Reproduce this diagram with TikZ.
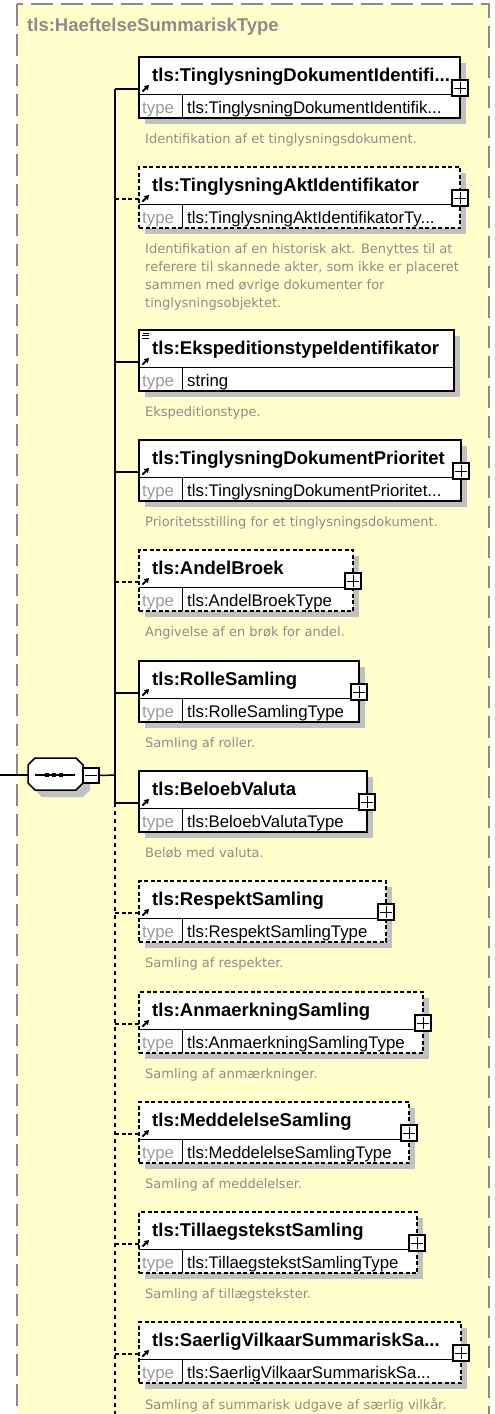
\documentclass[tikz,border=0pt]{standalone}
\usepackage{fontspec}
\usetikzlibrary{positioning,calc,arrows.meta}
\newfontfamily\arialfont{Liberation Sans}
\newfontfamily\descfont{DejaVu Sans}
\definecolor{bgyellow}{HTML}{FFFFCC}
\definecolor{shadowgray}{HTML}{C0C0C0}
\definecolor{textgray}{HTML}{8C8C8C}
\definecolor{typegray}{HTML}{9A9A9A}
\definecolor{framegray}{HTML}{8A8A8A}
\tikzset{
  opt/.style={dash pattern=on 4pt off 2.5pt},
  req/.style={solid},
  elembox/.style={draw, line width=1.5pt, fill=white, inner sep=0pt, outer sep=0pt, anchor=north west, minimum height=61pt},
  elemname/.style={font=\arialfont\bfseries\fontsize{18.5}{20}\selectfont, inner sep=0pt, anchor=base west},
  typetext/.style={font=\arialfont\fontsize{16.8}{18}\selectfont, inner sep=0pt, anchor=base west},
  typelabel/.style={typetext, text=typegray},
  desc/.style={font=\descfont\fontsize{13}{18}\selectfont, text=textgray, inner sep=0pt, anchor=north west, align=left},
  plusbox/.style={draw, line width=1.2pt, fill=white, minimum size=16pt, inner sep=0pt},
  shadow/.style={fill=shadowgray},
  link/.style={line width=1.5pt},
}
% one element of the sequence
\newcommand{\tlselem}[7]{%
  \pgfmathsetmacro{\boxw}{#3-139}
  \fill[shadow] (145,#2+6) rectangle (#3+6,#2+67);
  \node[elembox,#6,minimum width=\boxw pt] (#1) at (139,#2) {};
  \draw[line width=0.8pt] (139,#2+37) -- (#3,#2+37);
  \draw[line width=0.8pt] (182,#2+37) -- (182,#2+61);
  \node[elemname] (#1n) at (152,#2+24) {#4};
  \node[typelabel] (#1l) at (142,#2+56) {type};
  \node[typetext] (#1t) at (187,#2+56) {#5};
  \node[desc] (#1d) at (145,#2+76) {#7};
  \draw[line width=1.8pt, -{Triangle[length=4.5pt,width=5.5pt]}] (142.5,#2+34.5) -- (149,#2+28);
  \coordinate (#1s) at (115,#2+32);
  \draw[link,#6] (#1s) -- (#1s -| #1.west);
}
% expand box
\newcommand{\tlsplus}[1]{%
  \node[plusbox] (#1p) at ($(#1.north east)+(0,31)$) {};
  \draw[line width=1pt] ($(#1p.west)+(3,0)$) -- ($(#1p.east)+(-3,0)$);
  \draw[line width=1pt] ($(#1p.north)+(0,3)$) -- ($(#1p.south)+(0,-3)$);
}
\begin{document}
\begin{tikzpicture}[x=1pt,y=-1pt]
  \useasboundingbox (0,0) rectangle (495,1414);
  \clip (0,0) rectangle (495,1414);
  \draw[framegray, fill=bgyellow, line width=1.5pt, dash pattern=on 22pt off 8pt] (17,4) rectangle (489,1440);
  \node[elemname, text=textgray] (title) at (27,31) {tls:HaeftelseSummariskType};

  \tlselem{e1}{57}{460}{tls:TinglysningDokumentIdentifi...}{tls:TinglysningDokumentIdentifik...}{req}{Identifikation af et tinglysningsdokument.}
  \tlselem{e2}{167}{460}{tls:TinglysningAktIdentifikator}{tls:TinglysningAktIdentifikatorTy...}{opt}{Identifikation af en historisk akt. Benyttes til at\\referere til skannede akter, som ikke er placeret\\sammen med øvrige dokumenter for\\tinglysningsobjektet.}
  \tlselem{e3}{330}{454}{tls:EkspeditionstypeIdentifikator}{string}{req}{Ekspeditionstype.}
  \tlselem{e4}{440}{461}{tls:TinglysningDokumentPrioritet}{tls:TinglysningDokumentPrioritet...}{req}{Prioritetsstilling for et tinglysningsdokument.}
  \tlselem{e5}{550}{353}{tls:AndelBroek}{tls:AndelBroekType}{opt}{Angivelse af en brøk for andel.}
  \tlselem{e6}{661}{359}{tls:RolleSamling}{tls:RolleSamlingType}{req}{Samling af roller.}
  \tlselem{e7}{771}{367}{tls:BeloebValuta}{tls:BeloebValutaType}{req}{Beløb med valuta.}
  \tlselem{e8}{881}{386}{tls:RespektSamling}{tls:RespektSamlingType}{opt}{Samling af respekter.}
  \tlselem{e9}{992}{423}{tls:AnmaerkningSamling}{tls:AnmaerkningSamlingType}{opt}{Samling af anmærkninger.}
  \tlselem{e10}{1102}{409}{tls:MeddelelseSamling}{tls:MeddelelseSamlingType}{opt}{Samling af meddelelser.}
  \tlselem{e11}{1212}{417}{tls:TillaegstekstSamling}{tls:TillaegstekstSamlingType}{opt}{Samling af tillægstekster.}
  \tlselem{e12}{1322}{461}{tls:SaerligVilkaarSummariskSa...}{tls:SaerligVilkaarSummariskSa...}{opt}{Samling af summarisk udgave af særlig vilkår.}

  \tlsplus{e1} \tlsplus{e2} \tlsplus{e4} \tlsplus{e5} \tlsplus{e6} \tlsplus{e7}
  \tlsplus{e8} \tlsplus{e9} \tlsplus{e10} \tlsplus{e11} \tlsplus{e12}

  % string facet mark
  \draw[line width=0.9pt] (143,333) -- (149,333) (142,335.5) -- (149,335.5) (142,338) -- (149,338);

  % spine
  \coordinate (spineend) at (115,1420);
  \draw[link] (e1s) -- (e7s);
  \draw[link, dash pattern=on 4pt off 4pt] (e7s) -- (spineend);

  % sequence compositor
  \fill[shadow] (42,765) -- (83,765) -- (90,772) -- (90,790) -- (83,797) -- (42,797) -- (35,790) -- cycle;
  \draw[line width=1.5pt, fill=white] (35,758) -- (76,758) -- (83,765) -- (83,783) -- (76,790) -- (35,790) -- (28,783) -- (28,765) -- cycle;
  \draw[line width=1.2pt] (35,775) -- (75,775);
  \foreach \d in {47,54,61} \fill (\d-2,773) rectangle (\d+2,777);
  \node[plusbox, minimum height=15pt] (seqminus) at (91,775.5) {};
  \draw[line width=1pt] ($(seqminus.west)+(3,0)$) -- ($(seqminus.east)+(-3,0)$);
  \coordinate (seqin) at (0,775);
  \coordinate (seqw) at (28,775);
  \coordinate (seqj) at (115,775);
  \draw[link] (seqin) -- (seqw);
  \draw[link] (seqminus.east) -- (seqj);
\end{tikzpicture}
\end{document}
